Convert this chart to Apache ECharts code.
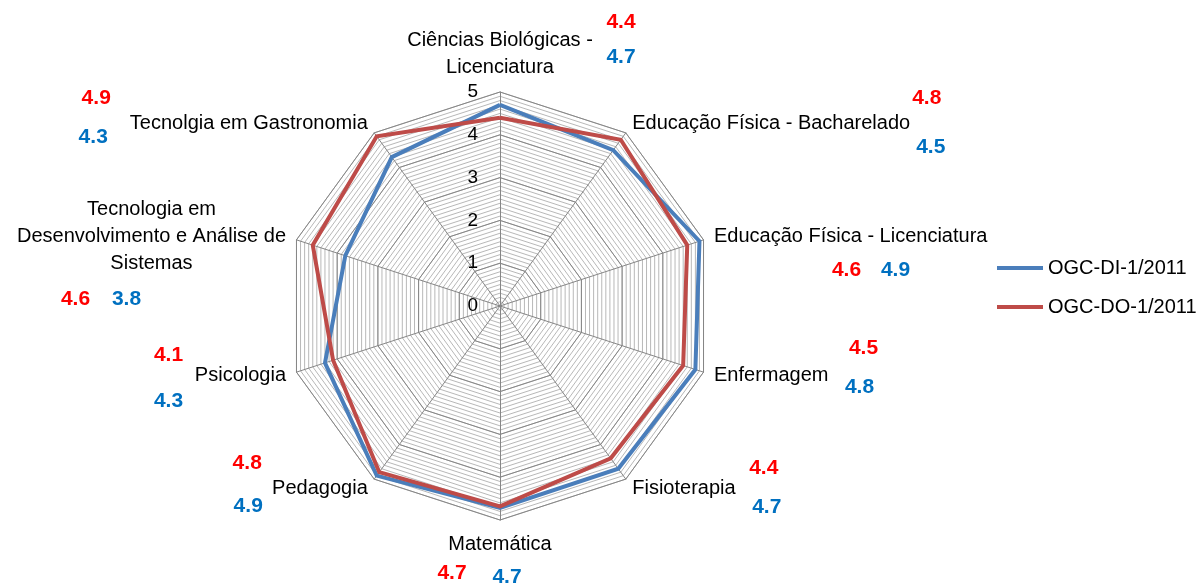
<!DOCTYPE html>
<html><head><meta charset="utf-8">
<script src="https://cdn.jsdelivr.net/npm/echarts@6/dist/echarts.min.js"></script>
<style>html,body{margin:0;padding:0;background:#fff}#c{width:1200px;height:584px}</style>
</head><body><div id="c"></div>
<script>
// ---- data ----
const categories = [
  'Ciências Biológicas -\nLicenciatura',
  'Educação Física - Bacharelado',
  'Educação Física - Licenciatura',
  'Enfermagem',
  'Fisioterapia',
  'Matemática',
  'Pedagogia',
  'Psicologia',
  'Tecnologia em\nDesenvolvimento e Análise de\nSistemas',
  'Tecnolgia em Gastronomia'
];
const seriesNames = ['OGC-DI-1/2011', 'OGC-DO-1/2011'];
const valuesDI = [4.7, 4.5, 4.9, 4.8, 4.7, 4.72, 4.9, 4.3, 3.8, 4.3];
const valuesDO = [4.4, 4.8, 4.6, 4.5, 4.4, 4.68, 4.8, 4.1, 4.6, 4.9];
const axisMax = 5;

// ---- layout / style ----
const FONT = "'Liberation Sans', Arial, sans-serif";
const CX = 500, CY = 306, R = 214;
const colorDI = '#4A7EBB', colorDO = '#BE4B48';
const labelDI = '#0070C0', labelDO = '#FF0000';
// annotation offsets (px) relative to each outer vertex: [DO dx, DO dy, DI dx, DI dy]
const annotOffsets = [
  [121, -70, 121, -35],
  [301, -35, 305, 14],
  [143, 30, 192, 30],
  [160, -24, 156, 15],
  [138, -11, 141, 28],
  [-48, 53, 7, 57],
  [-127, -16, -126, 27],
  [-128, -17, -128, 29],
  [-221, 59, -170, 59],
  [-278, -35, -281, 4]
];

// ECharts places indicators counter-clockwise; reorder so categories run clockwise
const order = [0];
for (let i = categories.length - 1; i >= 1; i--) order.push(i);

const indicators = order.map(k => ({ name: categories[k], max: axisMax, min: 0 }));
const indicatorsLabeled = order.map((k, j) => {
  const ind = { name: categories[k], max: axisMax, min: 0 };
  if (j === 0) ind.axisLabel = { show: true };
  return ind;
});

const baseRadar = {
  center: [CX, CY],
  radius: R,
  startAngle: 90,
  shape: 'polygon',
  splitArea: { show: false }
};

const graphics = [];
categories.forEach((c, i) => {
  const th = (90 - 36 * i) * Math.PI / 180;
  const vx = CX + R * Math.cos(th), vy = CY - R * Math.sin(th);
  const o = annotOffsets[i];
  graphics.push({
    type: 'text', x: vx + o[0], y: vy + o[1],
    style: { text: valuesDO[i].toFixed(1), fill: labelDO, font: 'bold 21px ' + FONT, align: 'center', verticalAlign: 'middle' }
  });
  graphics.push({
    type: 'text', x: vx + o[2], y: vy + o[3],
    style: { text: valuesDI[i].toFixed(1), fill: labelDI, font: 'bold 21px ' + FONT, align: 'center', verticalAlign: 'middle' }
  });
});

const chart = echarts.init(document.getElementById('c'), null, { renderer: 'canvas' });
chart.setOption({
  backgroundColor: '#ffffff',
  animation: false,
  textStyle: { fontFamily: FONT },
  legend: {
    orient: 'vertical',
    left: 997,
    top: 258,
    padding: 0,
    itemWidth: 46,
    itemHeight: 4,
    itemGap: 19,
    icon: 'rect',
    textStyle: { fontSize: 20, color: '#000', fontFamily: FONT },
    data: seriesNames
  },
  radar: [
    Object.assign({}, baseRadar, {
      indicator: indicators,
      splitNumber: 50,
      axisName: { show: false },
      axisLine: { show: false },
      axisTick: { show: false },
      axisLabel: { show: false },
      splitLine: { lineStyle: { color: '#B8B8B8', width: 1 } }
    }),
    Object.assign({}, baseRadar, {
      indicator: indicatorsLabeled,
      splitNumber: 5,
      nameGap: 11,
      axisName: {
        color: '#000',
        fontSize: 20,
        fontFamily: FONT,
        lineHeight: 27,
        formatter: function (name) {
          return name.split('\n').map(l => '{c|' + l + '}').join('\n');
        },
        rich: { c: { align: 'center', fontSize: 20, lineHeight: 27, color: '#000', fontFamily: FONT } }
      },
      axisLine: { show: true, lineStyle: { color: '#868686', width: 1 } },
      axisTick: { show: false },
      axisLabel: { show: false, color: '#000', fontSize: 19, fontFamily: FONT, margin: 22, padding: [5, 0, 0, 0] },
      splitLine: { lineStyle: { color: '#868686', width: 1 } }
    })
  ],
  series: [{
    type: 'radar',
    radarIndex: 1,
    z: 5,
    symbol: 'none',
    data: [
      {
        name: seriesNames[0],
        value: order.map(k => valuesDI[k]),
        lineStyle: { color: colorDI, width: 4, join: 'miter' },
        itemStyle: { color: colorDI }
      },
      {
        name: seriesNames[1],
        value: order.map(k => valuesDO[k]),
        lineStyle: { color: colorDO, width: 4, join: 'miter' },
        itemStyle: { color: colorDO }
      }
    ]
  }],
  graphic: graphics
});
</script>
</body></html>
